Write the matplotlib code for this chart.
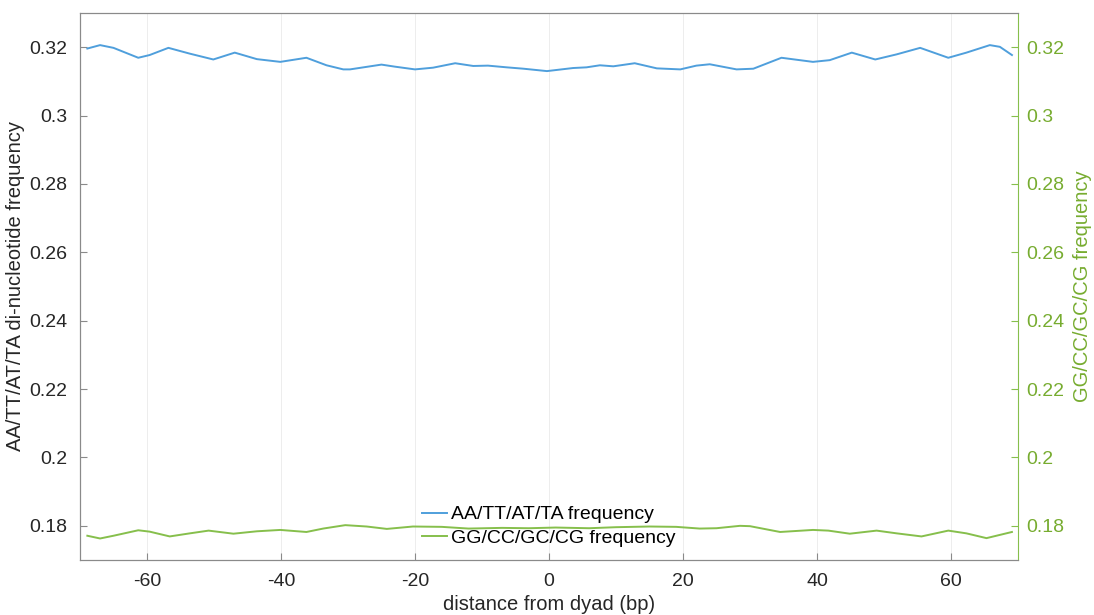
import matplotlib
matplotlib.use("Agg")
import matplotlib.pyplot as plt

plt.rcParams['font.family'] = ['Liberation Sans', 'DejaVu Sans']
plt.rcParams['axes.unicode_minus'] = False

# distance from dyad (bp) and frequencies
at_x = [-68.9, -67, -65, -61.3, -59.6, -56.8, -53.6, -50.1, -46.9, -43.6, -40.1, -36.2, -33.2,
        -30.7, -29.7, -25.0, -23.0, -20.0, -17.3, -14.0, -11.3, -9.1, -6.3, -3.8, -0.3, 3.6,
        5.6, 7.6, 9.6, 12.8, 16.1, 19.6, 22.0, 24.0, 28.0, 30.5, 34.7, 39.4, 41.9, 45.2, 48.7,
        51.9, 55.4, 59.6, 62.3, 65.8, 67.3, 69.1]
at_y = [0.3196, 0.3206, 0.3198, 0.3169, 0.3177, 0.3198, 0.3181, 0.3164, 0.3184, 0.3165, 0.3157,
        0.3169, 0.3147, 0.3135, 0.3135, 0.3149, 0.3143, 0.3135, 0.3140, 0.3153, 0.3145, 0.3146,
        0.3141, 0.3137, 0.3130, 0.3139, 0.3141, 0.3147, 0.3144, 0.3153, 0.3138, 0.3135, 0.3146,
        0.3150, 0.3135, 0.3137, 0.3169, 0.3157, 0.3162, 0.3184, 0.3164, 0.3179, 0.3198, 0.3169,
        0.3184, 0.3206, 0.3201, 0.3177]

gc_x = [-68.9, -67, -65, -61.3, -59.6, -56.6, -53.6, -50.8, -47.1, -43.6, -40.1, -36.2, -33.7,
        -30.4, -27.2, -24.2, -20.3, -16, -12, -7, -3, 1, 6, 10, 15, 19, 22.5, 25.0, 28.5, 30.0,
        34.5, 39.4, 41.7, 44.9, 48.9, 51.9, 55.6, 59.6, 62.3, 65.3, 69.1]
gc_y = [0.1771, 0.1763, 0.1771, 0.1787, 0.1783, 0.1769, 0.1778, 0.1786, 0.1777, 0.1784, 0.1788,
        0.1782, 0.1792, 0.1802, 0.1798, 0.1791, 0.1798, 0.1797, 0.1792, 0.1794, 0.1793, 0.1795,
        0.1793, 0.1796, 0.1798, 0.1797, 0.1792, 0.1793, 0.1800, 0.1799, 0.1782, 0.1788, 0.1786,
        0.1777, 0.1786, 0.1778, 0.1769, 0.1786, 0.1778, 0.1764, 0.1782]

y_ticks = [0.18, 0.20, 0.22, 0.24, 0.26, 0.28, 0.30, 0.32]
y_ticklabels = ['0.18', '0.2', '0.22', '0.24', '0.26', '0.28', '0.3', '0.32']
x_ticks = [-60, -40, -20, 0, 20, 40, 60]

blue = '#4f9fdc'
green = '#86bf4c'
green_txt = '#77ac30'

fig = plt.figure(figsize=(10.94, 6.15), dpi=100)
ax = fig.add_axes([0.0731, 0.0894, 0.8574, 0.8895])
ax2 = ax.twinx()

l1, = ax.plot(at_x, at_y, color=blue, lw=1.4, solid_joinstyle='round',
              label='AA/TT/AT/TA frequency')
l2, = ax2.plot(gc_x, gc_y, color=green, lw=1.4, solid_joinstyle='round',
               label='GG/CC/GC/CG frequency')

for a in (ax, ax2):
    a.set_xlim(-70, 70)
    a.set_ylim(0.17, 0.33)
    a.set_yticks(y_ticks)
    a.set_yticklabels(y_ticklabels)

ax.set_xticks(x_ticks)
ax.grid(axis='x', color='#ededed', lw=0.7)
ax.set_axisbelow(True)

ax.tick_params(axis='both', direction='in', length=5, color='#8a8a8a', labelsize=14,
               labelcolor='#262626', pad=9)
ax2.tick_params(axis='y', direction='in', length=5, color=green, labelsize=14,
                labelcolor=green_txt, pad=6)

for name in ('left', 'top', 'bottom'):
    ax.spines[name].set_color('#8a8a8a')
    ax2.spines[name].set_color('#8a8a8a')
ax2.spines['right'].set_color(green)
ax.spines['right'].set_visible(False)

ax.set_xlabel('distance from dyad (bp)', fontsize=14.5, color='#262626', labelpad=4)
ax.set_ylabel('AA/TT/AT/TA di-nucleotide frequency', fontsize=14.5, color='#262626', labelpad=3)
ax2.set_ylabel('GG/CC/GC/CG frequency', fontsize=14.5, color=green_txt, labelpad=6)

ax2.legend([l1, l2], [l1.get_label(), l2.get_label()], loc='lower center',
           bbox_to_anchor=(0.5, -0.008), frameon=False, fontsize=14,
           handlelength=1.3, handletextpad=0.2, labelspacing=0.3)

fig.savefig('out.png', dpi=100)
